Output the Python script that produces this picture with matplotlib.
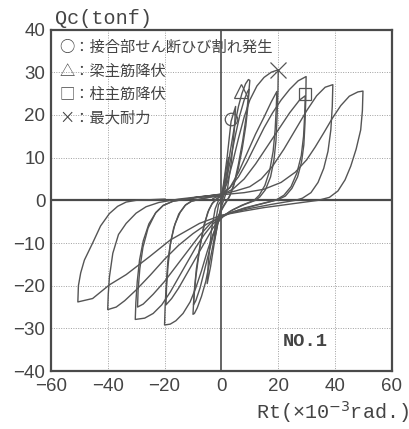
import matplotlib.pyplot as plt
import numpy as np

plt.rcParams['font.family'] = ['Liberation Sans', 'DejaVu Sans']

# hysteresis loops, Rt (x10^-3 rad) vs Qc (tonf)
rt_2 = [0, 0.8, 1.6, 2.5, 2.2, 1.0, 0.3, -0.5, -1.4, -2.5, -2.2, -1.0, 0]
qc_2 = [0, 3.5, 7, 10, 6, 1.5, 0, -2.5, -6, -9.5, -5.5, -1, 0]

rt_5 = [0, 1, 2, 3.4, 4.3, 5, 4.6, 3.5, 2.2, 1.2, 0, -1.2, -2.5, -3.8, -5, -4.6, -3.5, -2.2, -1, 0]
qc_5 = [0.5, 5, 10, 18.5, 20.5, 22, 17, 9, 3, 0.8, -1.5, -5, -10, -15.5, -19.5, -14.5, -7, -2, 0, 0.5]

rt_10a = [0, 1.5, 3, 4.5, 6, 7.2, 8.5, 9.5, 10, 9.6, 8.8, 7.5, 6, 4.5, 3, 2, 0.5, -1, -2.5, -4,
          -5.5, -7, -8.5, -9.5, -10, -9.7, -9, -7.8, -6.3, -4.8, -3.3, -2, -1, 0]
qc_10a = [1.2, 5, 11, 17, 22, 25, 27.3, 28.3, 28.1, 25, 20, 14, 8.5, 4, 1.2, 0, -1.5, -4, -9, -14,
          -19, -22.5, -25.2, -26.5, -26.7, -23, -18, -12, -6.5, -2.8, -0.8, 0, 0.6, 1.2]

rt_10b = [0, 1.8, 3.5, 5, 6.5, 8, 9.2, 9.7, 9.4, 8.6, 7.3, 5.8, 4.2, 2.8, 1, -1, -2.8, -4.5,
          -6, -7.5, -9, -9.8, -9.5, -8.8, -7.5, -6, -4.4, -3, -1.5, 0]
qc_10b = [1.0, 5, 10.5, 15.5, 20, 23.5, 25.5, 26, 22.5, 17.5, 12, 7, 3.2, 0.8, -1.2, -3.5, -8, -12.5,
          -16.5, -20.5, -23.5, -24.5, -21, -16, -10.5, -5.5, -2.2, -0.5, 0.5, 1.0]

rt_20a = [-3, 0, 2, 4, 6, 8, 10, 12.5, 15, 17.5, 20, 19.9, 19.6, 19.2, 18.5, 17.3, 15.5, 13.5, 12,
          8, 4, 1, -1, -3, -5, -7, -9, -11, -13.5, -16, -18, -20, -19.8, -19.4, -18.8, -17.8,
          -16.3, -14.5, -12.5, -10.5, -6, -2, 0]
qc_20a = [0.4, 1.3, 4, 9, 14.5, 19.5, 23.5, 26.8, 28.8, 30, 30.6, 26, 20, 14, 9.5, 5.5, 2.5, 0.8, 0,
          -1, -2.2, -3.5, -5, -8, -12, -16.5, -20.5, -23.8, -26.5, -28.2, -29, -29.2, -25, -19.5,
          -14, -9.5, -5.5, -2.8, -1, -0.2, 0.5, 1, 1.3]

rt_20b = [0, 3, 6, 9, 12, 15, 17.5, 19.5, 19.3, 18.9, 18.2, 17, 15.3, 13.3, 11.5, 7, 3, 0, -3,
          -6, -9, -12, -15, -17.5, -19.5, -19.3, -18.8, -18, -16.8, -15, -12.8, -10.5, -6, -2, 0]
qc_20b = [1.2, 3, 6.5, 11, 15.5, 19.5, 23, 25.5, 21.5, 16.5, 11.5, 7, 3.5, 1.2, 0, -1.2, -2.6, -4,
          -6.5, -10, -13.5, -17, -20.5, -23, -24.5, -20.5, -15.5, -10.5, -6.5, -3.2, -1.2, -0.2,
          0.5, 1, 1.2]

rt_30a = [-10, -4, 0, 3, 6, 9, 12, 15, 18, 21, 24, 27, 29.8, 29.7, 29.4, 29, 28.2, 26.8, 24.8,
          22.5, 20, 14, 8, 3, 0, -3, -6, -9, -12, -15, -18, -21, -24, -27, -30.3, -30.1, -29.6,
          -28.8, -27.5, -25.5, -23, -20.5, -17, -10]
qc_30a = [0.6, 1.1, 1.5, 3, 5.5, 9, 13, 17, 20.5, 23.5, 26, 28, 29, 24, 18, 13, 9, 5.5, 2.8,
          1, 0.2, -0.8, -1.8, -3, -4, -5.5, -8, -11, -14.5, -18, -21.5, -24.5, -26.5, -27.6,
          -27.9, -24, -19, -14, -9.5, -5.5, -2.8, -1.2, -0.2, 0.6]

rt_30b = [-10, 0, 4, 8, 12, 16, 20, 24, 27.5, 29.5, 29.3, 28.9, 28.1, 26.6, 24.5, 22, 19,
          12, 5, 0, -4, -8, -12, -16, -20, -24, -27.5, -29.5, -29.3, -28.7, -27.6, -25.8, -23.2,
          -20.5, -17, -10]
qc_30b = [0.5, 1.3, 2.6, 5, 8.5, 12.5, 16.5, 20.5, 23.5, 24.5, 20, 15, 10.5, 6.5, 3.2, 1.2, 0,
          -1.2, -2.5, -3.6, -5.5, -8.5, -12, -15.5, -19, -22, -24.3, -25, -21, -16, -11, -6.5,
          -3, -1.2, -0.2, 0.5]

rt_40 = [-10, 0, 5, 10, 14, 18, 22, 26, 30, 33.5, 36.5, 39.2, 39, 38.5, 37.5, 36, 34, 31.5,
         28.5, 26, 18, 10, 3, 0, -5, -10, -15, -20, -25, -30, -34, -37, -40, -39.8, -39.4,
         -38.2, -36.2, -33.5, -30, -26.5, -22, -15, -7, 0]
qc_40 = [0.6, 1.4, 2.2, 3.2, 5, 8, 12, 16.5, 21, 24.5, 26.5, 27.1, 22, 16.5, 11.5, 7.5, 4.2,
         1.8, 0.5, 0, -0.9, -1.9, -3, -3.8, -5.5, -7.8, -10.5, -13.8, -17.5, -21, -23.5, -25,
         -25.6, -22, -18, -12.4, -8, -5.4, -3, -1.5, -0.5, 0.3, 0.9, 1.4]

rt_50 = [0, 8, 15, 21, 26, 30, 33, 36, 39, 42, 45, 48, 49.8, 49.6, 49, 47.4, 45.5, 43.5, 41,
         38, 34, 25, 15, 8, 0, -7.7, -18, -25.3, -33.5, -39.4, -45.3, -50.5, -50.3, -49.5,
         -48.2, -45.3, -42.5, -39.4, -36.5, -33.5, -30, -20]
qc_50 = [1.3, 1.8, 2.6, 4.2, 6.6, 9.5, 12.5, 15.8, 19.2, 22.2, 24.4, 25.4, 25.6, 21, 16.5, 12,
         8, 4.8, 2.2, 0.7, 0, -0.8, -1.7, -2.5, -3.5, -5.4, -9.3, -13.2, -17.4, -19.8, -23,
         -23.8, -20, -17, -14, -10, -6, -3.1, -1.4, -0.4, 0, 0.3]

loops = [(rt_2, qc_2), (rt_5, qc_5), (rt_10a, qc_10a), (rt_10b, qc_10b),
         (rt_20a, qc_20a), (rt_20b, qc_20b), (rt_30a, qc_30a), (rt_30b, qc_30b),
         (rt_40, qc_40), (rt_50, qc_50)]

# event markers
crack = (3.4, 19)
beam_yield = (6.9, 25.5)
col_yield = (29.5, 24.8)
q_max = (20, 30.6)

legend_lines = ['○：接合部せん断ひび割れ発生', '△：梁主筋降伏', '□：柱主筋降伏', '×：最大耐力']

xticks = [-60, -40, -20, 0, 20, 40, 60]
yticks = [-40, -30, -20, -10, 0, 10, 20, 30, 40]

ink = '#555555'
fig = plt.figure(figsize=(4.1, 4.29), dpi=100)
ax = fig.add_axes([0.124, 0.135, 0.832, 0.796])

for x in [-40, -20, 20, 40]:
    ax.axvline(x, color='#a0a0a0', lw=0.7, ls=(0, (1, 1.5)), zorder=0)
for y in [-30, -20, -10, 10, 20, 30]:
    ax.axhline(y, color='#a0a0a0', lw=0.7, ls=(0, (1, 1.5)), zorder=0)
ax.axhline(0, color='#4a4a4a', lw=1.6, zorder=1)
ax.axvline(0, color='#4a4a4a', lw=1.2, zorder=1)

for rt, qc in loops:
    ax.plot(rt, qc, color=ink, lw=1.0, zorder=2)

ax.plot(*crack, marker='o', ms=9, mfc='none', mec=ink, mew=0.9, zorder=3)
ax.plot(*beam_yield, marker='^', ms=10, mfc='none', mec=ink, mew=0.9, zorder=3)
ax.plot(*col_yield, marker='s', ms=9, mfc='none', mec=ink, mew=0.9, zorder=3)
ax.plot(*q_max, marker='x', ms=11, mfc='none', mec=ink, mew=0.9, zorder=3)

for i, s in enumerate(legend_lines):
    ax.text(-57, 35.8 - 5.5 * i, s, fontsize=11, color='#444444', va='center', ha='left',
            family=['Noto Sans CJK JP', 'DejaVu Sans'], zorder=4)

ax.text(29.5, -33, 'NO.1', fontsize=13.5, color='#444444', ha='center', va='center',
        family='Liberation Mono', fontweight='bold')

ax.set_xlim(-60, 60)
ax.set_ylim(-40, 40)
ax.set_xticks(xticks)
ax.set_yticks(yticks)
ax.set_xticklabels([str(v).replace('-', '−') for v in xticks], fontsize=13.5, color='#444444')
ax.set_yticklabels([str(v).replace('-', '−') for v in yticks], fontsize=13.5, color='#444444')
ax.tick_params(length=0, pad=5)
ax.tick_params(axis='y', pad=4)
for sp in ax.spines.values():
    sp.set_linewidth(1.6)
    sp.set_color('#4a4a4a')

fig.text(0.133, 0.958, 'Qc(tonf)', fontsize=14.5, color='#444444', family='Liberation Mono',
         ha='left', va='center')
fig.text(0.997, 0.04, 'Rt(×10$^{-3}$rad.)', fontsize=14.5, color='#444444',
         family='Liberation Mono', ha='right', va='center')

fig.savefig('out.png', dpi=100)
